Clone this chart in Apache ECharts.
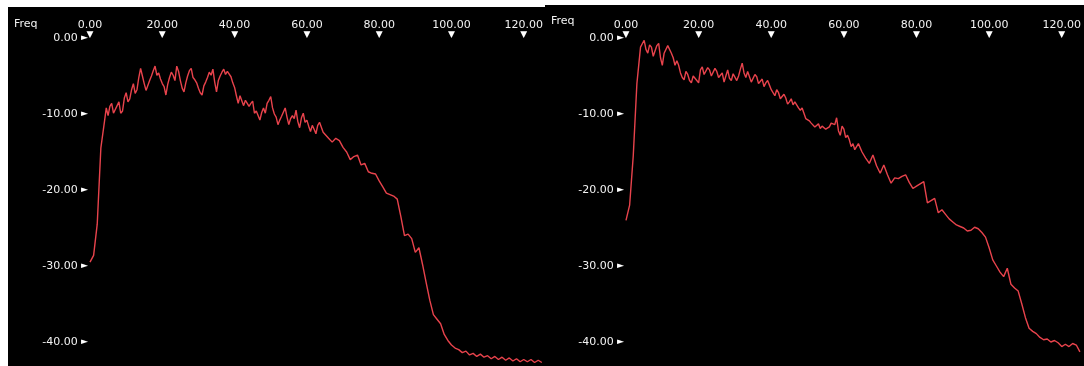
<!DOCTYPE html>
<html><head><meta charset="utf-8">
<script src="https://cdn.jsdelivr.net/npm/echarts@6/dist/echarts.min.js"></script>
<style>html,body{margin:0;padding:0;background:#fff}#c{width:1084px;height:366px}</style>
</head><body><div id="c"></div>
<script>
// Levels read at whole Freq positions 0..125
const leftLevels = [
-29.5,-28.6,-24.5,-14.5,-11.0,-10.2,-8.6,-10.0,-8.4,-9.6,
-7.2,-8.0,-6.0,-6.8,-4.0,-6.0,-7.1,-5.0,-3.7,-4.6,
-6.0,-7.5,-5.2,-4.9,-3.7,-5.6,-7.1,-5.0,-4.0,-5.5,
-6.6,-7.5,-5.8,-4.5,-4.1,-7.1,-5.0,-4.1,-4.4,-5.1,
-6.5,-8.6,-7.8,-8.2,-9.0,-8.3,-9.6,-10.8,-9.2,-8.6,
-7.7,-10.0,-11.4,-10.3,-9.2,-11.4,-10.2,-9.5,-11.8,-9.9,
-10.8,-12.3,-12.0,-11.5,-11.2,-12.6,-13.2,-13.7,-13.2,-13.5,
-14.4,-15.0,-16.0,-15.6,-15.4,-16.7,-16.5,-17.6,-17.8,-17.9,
-18.8,-19.6,-20.4,-20.6,-20.8,-21.2,-23.5,-26.0,-25.8,-26.4,
-28.2,-27.6,-29.8,-32.2,-34.5,-36.4,-37.0,-37.6,-39.0,-39.8,
-40.4,-40.8,-41.0,-41.4,-41.2,-41.7,-41.5,-41.9,-41.6,-42.0,
-41.8,-42.2,-41.9,-42.3,-42.0,-42.4,-42.1,-42.5,-42.2,-42.6,
-42.3,-42.6,-42.3,-42.7,-42.4,-42.7
];
// Extra levels read at half positions 4.5 .. 64.5 (the jagged part)
const leftMidStart = 4;
const leftMidLevels = [
-9.2,-9.0,-9.9,-8.9,-9.9,-7.9,-8.4,-6.8,-7.3,-5.2,
-5.0,-6.9,-5.6,-4.3,-4.9,-5.4,-6.4,-6.1,-4.5,-5.6,
-4.4,-6.6,-5.9,-4.3,-5.2,-5.9,-7.2,-6.3,-5.2,-4.9,
-5.8,-5.6,-4.5,-4.8,-4.2,-5.9,-7.6,-7.6,-8.9,-8.0,
-8.6,-9.9,-9.4,-9.8,-9.9,-8.2,-9.2,-10.4,-10.8,-10.4,
-10.4,-10.6,-10.6,-11.0,-10.5,-11.1,-11.6,-11.5,-12.6,-11.1,
-12.4
];
const rightLevels = [
-24.0,-22.0,-15.5,-6.0,-1.2,-0.3,-2.0,-1.2,-2.2,-0.7,
-3.6,-1.8,-0.8,-2.6,-3.0,-4.6,-5.5,-4.8,-5.9,-4.9,
-5.9,-3.8,-4.6,-4.2,-4.8,-4.4,-5.2,-5.8,-4.2,-5.6,
-4.6,-5.0,-3.3,-5.2,-4.4,-5.6,-5.1,-5.8,-6.4,-5.6,
-6.8,-7.6,-7.2,-8.0,-7.9,-8.4,-8.8,-8.3,-9.5,-9.9,
-10.4,-11.2,-11.7,-11.3,-11.6,-12.0,-11.7,-11.0,-10.5,-12.8,
-12.0,-12.8,-14.3,-14.7,-13.9,-15.0,-15.8,-16.5,-15.4,-16.8,
-17.8,-16.7,-18.0,-19.1,-18.4,-18.5,-18.2,-18.0,-19.0,-19.8,
-19.5,-19.2,-18.9,-21.7,-21.4,-21.1,-23.0,-22.6,-23.2,-23.8,
-24.2,-24.6,-24.8,-25.0,-25.4,-25.3,-24.9,-25.1,-25.6,-26.2,
-27.6,-29.2,-30.0,-30.8,-31.4,-30.3,-32.4,-32.9,-33.3,-35.0,
-36.8,-38.2,-38.6,-38.9,-39.4,-39.7,-39.6,-40.0,-39.8,-40.1,
-40.6,-40.3,-40.6,-40.2,-40.4,-41.3
];
// Extra levels read at half positions 5.5 .. 62.5
const rightMidStart = 5;
const rightMidLevels = [
-1.5,-0.9,-2.4,-1.0,-2.6,-2.0,-1.0,-2.0,-3.6,-3.6,
-5.2,-4.4,-5.6,-5.0,-5.6,-4.2,-4.8,-3.9,-5.0,-4.0,
-5.2,-4.6,-5.0,-5.3,-4.7,-5.6,-4.1,-4.6,-4.4,-5.8,
-4.8,-6.0,-5.4,-5.9,-6.2,-7.0,-6.8,-8.0,-7.4,-8.7,
-8.0,-8.4,-9.2,-9.2,-10.6,-10.9,-11.0,-11.9,-11.9,-11.4,
-12.2,-11.2,-11.4,-12.2,-11.6,-13.1,-13.4,-13.9
];
const xTickValues = [0, 20, 40, 60, 80, 100, 120];
const xEnd = 125.6;
const yTickValues = [0, -10, -20, -30, -40];
const axisTitle = 'Freq';

const FONT = 'DejaVu Sans';
const lineColor = '#e8434c';

function toPairs(levels, mids, midStart) {
  const pts = levels.map((v, i) => [i, v]);
  mids.forEach((v, k) => pts.push([midStart + k + 0.5, v]));
  return pts.sort((a, b) => a[0] - b[0]);
}

function xAxisFor(gi) {
  return {
    type: 'value', gridIndex: gi, position: 'top',
    min: 0, max: xEnd, interval: 20,
    axisLine: { show: false }, axisTick: { show: false }, splitLine: { show: false },
    axisLabel: {
      margin: -2, showMaxLabel: false,
      formatter: v => xTickValues.includes(v) ? '{t|' + v.toFixed(2) + '}\n{m|▼}' : '',
      rich: {
        t: { color: '#f2f2f2', fontFamily: FONT, fontSize: 11, lineHeight: 10, align: 'center' },
        m: { color: '#fff', fontFamily: FONT, fontSize: 9, lineHeight: 10, align: 'center' }
      }
    }
  };
}
function yAxisFor(gi) {
  return {
    type: 'value', gridIndex: gi,
    min: yTickValues[yTickValues.length - 1], max: yTickValues[0], interval: 10,
    axisLine: { show: false }, axisTick: { show: false }, splitLine: { show: false },
    axisLabel: {
      margin: 2,
      formatter: v => '{t|' + v.toFixed(2) + '} {m|►}',
      rich: {
        t: { color: '#f2f2f2', fontFamily: FONT, fontSize: 11 },
        m: { color: '#fff', fontFamily: FONT, fontSize: 9 }
      }
    }
  };
}

const chart = echarts.init(document.getElementById('c'), null, { renderer: 'canvas' });
chart.setOption({
  backgroundColor: '#ffffff',
  animation: false,
  graphic: [
    { type: 'rect', z: -100, silent: true, shape: { x: 8, y: 7, width: 537, height: 359 }, style: { fill: '#000' } },
    { type: 'rect', z: -100, silent: true, shape: { x: 545, y: 5, width: 539, height: 361 }, style: { fill: '#000' } }
  ],
  title: [
    { text: axisTitle, left: 14, top: 19, textStyle: { color: '#f2f2f2', fontFamily: FONT, fontSize: 11, fontWeight: 'normal' }, padding: 0 },
    { text: axisTitle, left: 551, top: 16, textStyle: { color: '#f2f2f2', fontFamily: FONT, fontSize: 11, fontWeight: 'normal' }, padding: 0 }
  ],
  grid: [
    { left: 90, width: 454, top: 38, height: 304 },
    { left: 626, width: 457.8, top: 38, height: 304 }
  ],
  xAxis: [xAxisFor(0), xAxisFor(1)],
  yAxis: [yAxisFor(0), yAxisFor(1)],
  series: [
    { type: 'line', xAxisIndex: 0, yAxisIndex: 0, data: toPairs(leftLevels, leftMidLevels, leftMidStart),
      showSymbol: false, clip: false, lineStyle: { color: lineColor, width: 1.4 } },
    { type: 'line', xAxisIndex: 1, yAxisIndex: 1, data: toPairs(rightLevels, rightMidLevels, rightMidStart),
      showSymbol: false, clip: false, lineStyle: { color: lineColor, width: 1.4 } }
  ]
});
</script>
</body></html>
